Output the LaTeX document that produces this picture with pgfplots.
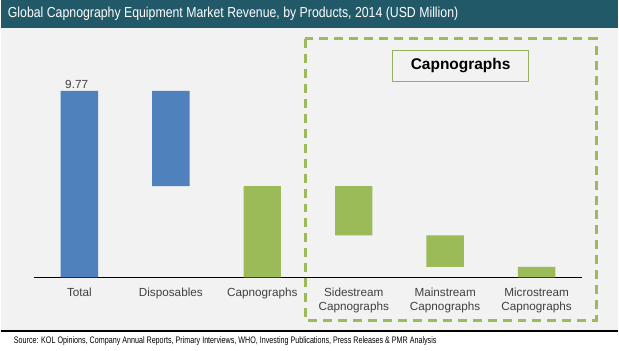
\documentclass[border=0pt]{standalone}
\usepackage{pgfplots}
\pgfplotsset{compat=1.18}
\usepackage{fontspec}
\setmainfont{Liberation Sans}
\definecolor{titlebg}{HTML}{215968}
\definecolor{bggray}{HTML}{F2F2F2}
\definecolor{barblue}{HTML}{4F81BD}
\definecolor{bargreen}{HTML}{9BBB59}
\definecolor{tickgray}{HTML}{404040}
\begin{document}
\begin{tikzpicture}[x=1pt,y=1pt]
\fill[white] (0,0) rectangle (619,351);
\fill[bggray] (0,19) rectangle (619,323);
\fill[titlebg] (0,323) rectangle (619,351);
\node[anchor=west, text=white, inner sep=0pt, font=\fontsize{14.5}{16}\selectfont] at (7,337) {\scalebox{0.85}[1]{Global Capnography Equipment Market Revenue, by Products, 2014 (USD Million)}};
\draw[black, line width=1.5pt] (0,19) -- (619,19);
\node[anchor=west, inner sep=0pt, text=black, font=\fontsize{9.5}{11}\selectfont] at (13,9) {\scalebox{0.755}[1]{Source: KOL Opinions, Company Annual Reports, Primary Interviews, WHO, Investing Publications, Press Releases \& PMR Analysis}};
\begin{axis}[
  at={(33pt,73pt)}, anchor=south west,
  scale only axis, width=550pt, height=191.4pt,
  xmin=-0.5, xmax=5.5, ymin=0, ymax=10,
  axis x line*=bottom, axis y line=none,
  x axis line style={black, line width=0.8pt},
  ybar stacked, bar width=37.5pt,
  xtick={0,1,2,3,4,5},
  xticklabels={Total, Disposables, Capnographs, Sidestream\\Capnographs, Mainstream\\Capnographs, Microstream\\Capnographs},
  xticklabel style={font=\fontsize{11.75}{14.5}\selectfont, text=tickgray, align=center, yshift=-7pt},
  major tick length=0pt,
  clip=false,
]
\addplot[draw=none, fill=none] coordinates {(0,0) (1,4.78) (2,0) (3,2.2) (4,0.55) (5,0)};
\addplot[draw=none, fill=barblue] coordinates {(0,9.77) (1,4.99) (2,0) (3,0) (4,0) (5,0)};
\addplot[draw=none, fill=bargreen] coordinates {(0,0) (1,0) (2,4.78) (3,2.58) (4,1.65) (5,0.55)};
\node[above, text=tickgray, font=\fontsize{11.75}{14}\selectfont, inner sep=2pt] at (axis cs:-0.03,9.77) {9.77};
\end{axis}
\draw[bargreen, line width=3pt, dash pattern=on 9pt off 6pt] (305,312) rectangle (597,30);
\draw[bargreen!80!gray, line width=0.8pt, fill=bggray] (393,269) rectangle (529,300);
\node[font=\bfseries\fontsize{15.5}{18}\selectfont, text=black] at (461,285) {Capnographs};
\end{tikzpicture}
\end{document}
